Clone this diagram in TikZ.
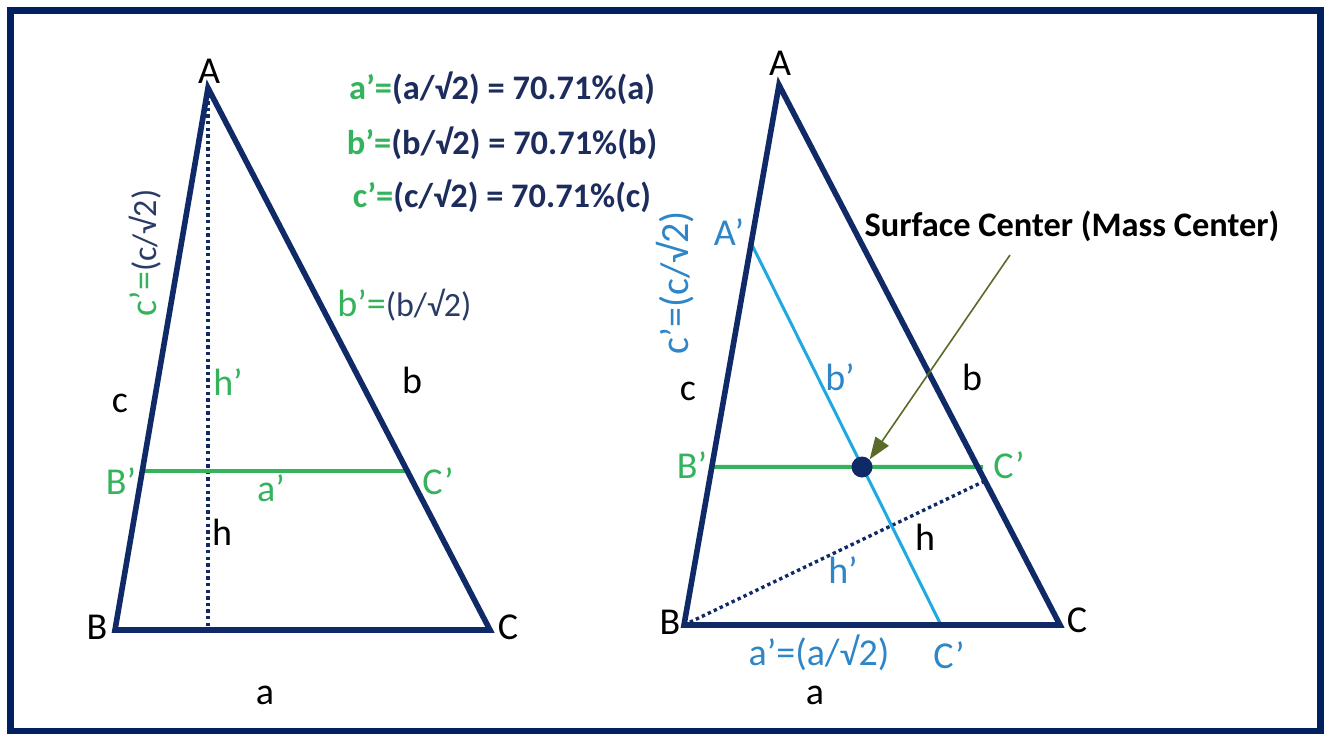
\documentclass[tikz,border=0pt]{standalone}
\usepackage{fontspec}
\setmainfont{Carlito}
\usetikzlibrary{arrows.meta,calc}
\definecolor{navy}{HTML}{0F2A66}
\definecolor{frameblue}{HTML}{002060}
\definecolor{lgreen}{HTML}{35B35C}
\definecolor{lblue}{HTML}{1FA9E1}
\definecolor{tblue}{HTML}{2E86C8}
\definecolor{fnavy}{HTML}{1C2C5C}
\definecolor{gnavy}{HTML}{2A3B66}
\definecolor{olive}{HTML}{5A6A28}
\tikzset{
  lbl/.style={inner sep=0pt, font=\fontsize{19}{19}\selectfont},
  fbold/.style={inner sep=0pt, text=fnavy, font=\fontsize{17.2}{17.2}\selectfont\bfseries},
  triedge/.style={draw=navy, line width=2.8pt, line join=miter},
  gline/.style={draw=lgreen, line width=2pt},
  bline/.style={draw=lblue, line width=1.5pt},
  dotline/.style={draw=navy, line width=1.7pt, dash pattern=on 1.7pt off 1.6pt},
  pointer/.style={draw=olive, line width=0.8pt, -{Triangle[length=11pt,width=8pt]}},
}
\begin{document}
\begin{tikzpicture}[x=0.5pt,y=-0.5pt]
\useasboundingbox (0,0) rectangle (1324,734);
\fill[white] (0,0) rectangle (1324,734);
\draw[frameblue, line width=3.5pt] (10.5,10.5) rectangle (1320,731);

% ---------- left triangle ----------
\coordinate (LA) at (208,88);
\coordinate (LB) at (115,630);
\coordinate (LC) at (490,630);
\coordinate (LH) at (208,630);
\coordinate (LBp) at ($(LA)!0.7071!(LB)$);
\coordinate (LCp) at ($(LA)!0.7071!(LC)$);
\draw[dotline] (LA) -- (LH);
\draw[gline] (LBp) -- (LCp);
\draw[triedge] (LA) -- (LB) -- (LC) -- cycle;

\node[lbl] (lA) at (209,71) {A};
\node[lbl] (lB) at (97,627) {B};
\node[lbl] (lC) at (508,627) {C};
\node[lbl] (la) at (265,695) {a};
\node[lbl] (lc) at (120,403) {c};
\node[lbl] (lb) at (412,380) {b};
\node[lbl, text=lgreen] (lhp) at (228,382) {h’};
\node[lbl] (lh) at (222,532) {h};
\node[lbl, text=lgreen] (lBpl) at (121,481) {B’};
\node[lbl, text=lgreen] (lCpl) at (438,481) {C’};
\node[lbl, text=lgreen] (lapl) at (271,488) {a’};
\node[lbl, anchor=west] (lbpl) at (337,305) {{\color{lgreen}b’=}{\fontsize{17}{17}\selectfont\color{gnavy}(b/√2)}};
\node[lbl, rotate=90] (lcpl) at (145,253) {{\color{lgreen}c’=}{\fontsize{17}{17}\selectfont\color{gnavy}(c/√2)}};

% ---------- formulas ----------
\node[fbold] (f1) at (502,88) {\textcolor{lgreen}{a’=}(a/√2) = 70.71\%(a)};
\node[fbold] (f2) at (502,143) {\textcolor{lgreen}{b’=}(b/√2) = 70.71\%(b)};
\node[fbold] (f3) at (502,196) {\textcolor{lgreen}{c’=}(c/√2) = 70.71\%(c)};

% ---------- right triangle ----------
\coordinate (RA) at (779,85);
\coordinate (RB) at (684,625);
\coordinate (RC) at (1060,625);
\coordinate (RAp) at ($(RA)!0.293!(RB)$);
\coordinate (RCpp) at (941,625);
\coordinate (RBp) at ($(RA)!0.7071!(RB)$);
\coordinate (RCp) at (983,467);
\coordinate (RF) at ($(RA)!0.733!(RC)$);
\draw[dotline] (RB) -- (RF);
\draw[bline] (RAp) -- (RCpp);
\draw[gline] (RBp) -- (RCp);
\draw[triedge] (RA) -- (RB) -- (RC) -- cycle;
\node[circle, fill=navy, minimum size=10.5pt, inner sep=0pt] (G) at (862,467) {};

\node[lbl] (rA) at (780,63) {A};
\node[lbl, text=tblue] (rApl) at (729,232) {A’};
\node[lbl] (rB) at (670,622) {B};
\node[lbl] (rC) at (1077,620) {C};
\node[lbl] (rc) at (688,391) {c};
\node[lbl] (rb) at (972,377) {b};
\node[lbl, text=tblue] (rbp) at (840,377) {b’};
\node[lbl, text=lgreen] (rBpl) at (692,465) {B’};
\node[lbl, text=lgreen] (rCpl) at (1009,465) {C’};
\node[lbl] (rh) at (925,537) {h};
\node[lbl, text=tblue] (rhp) at (843,570) {h’};
\node[lbl, text=tblue] (rapl) at (819,653) {a’=(a/√2)};
\node[lbl, text=tblue] (rCppl) at (949,655) {C’};
\node[lbl] (ra) at (815,695) {a};
\node[lbl, rotate=90, text=tblue, font=\fontsize{20}{20}\selectfont] (rcpl) at (675,283) {c’=(c/√2)};

\node[fbold, text=black] (sc) at (1072,226) {Surface Center (Mass Center)};
\coordinate (ps) at (1010,255);
\draw[pointer] (ps) -- (G.north east);
\end{tikzpicture}
\end{document}
